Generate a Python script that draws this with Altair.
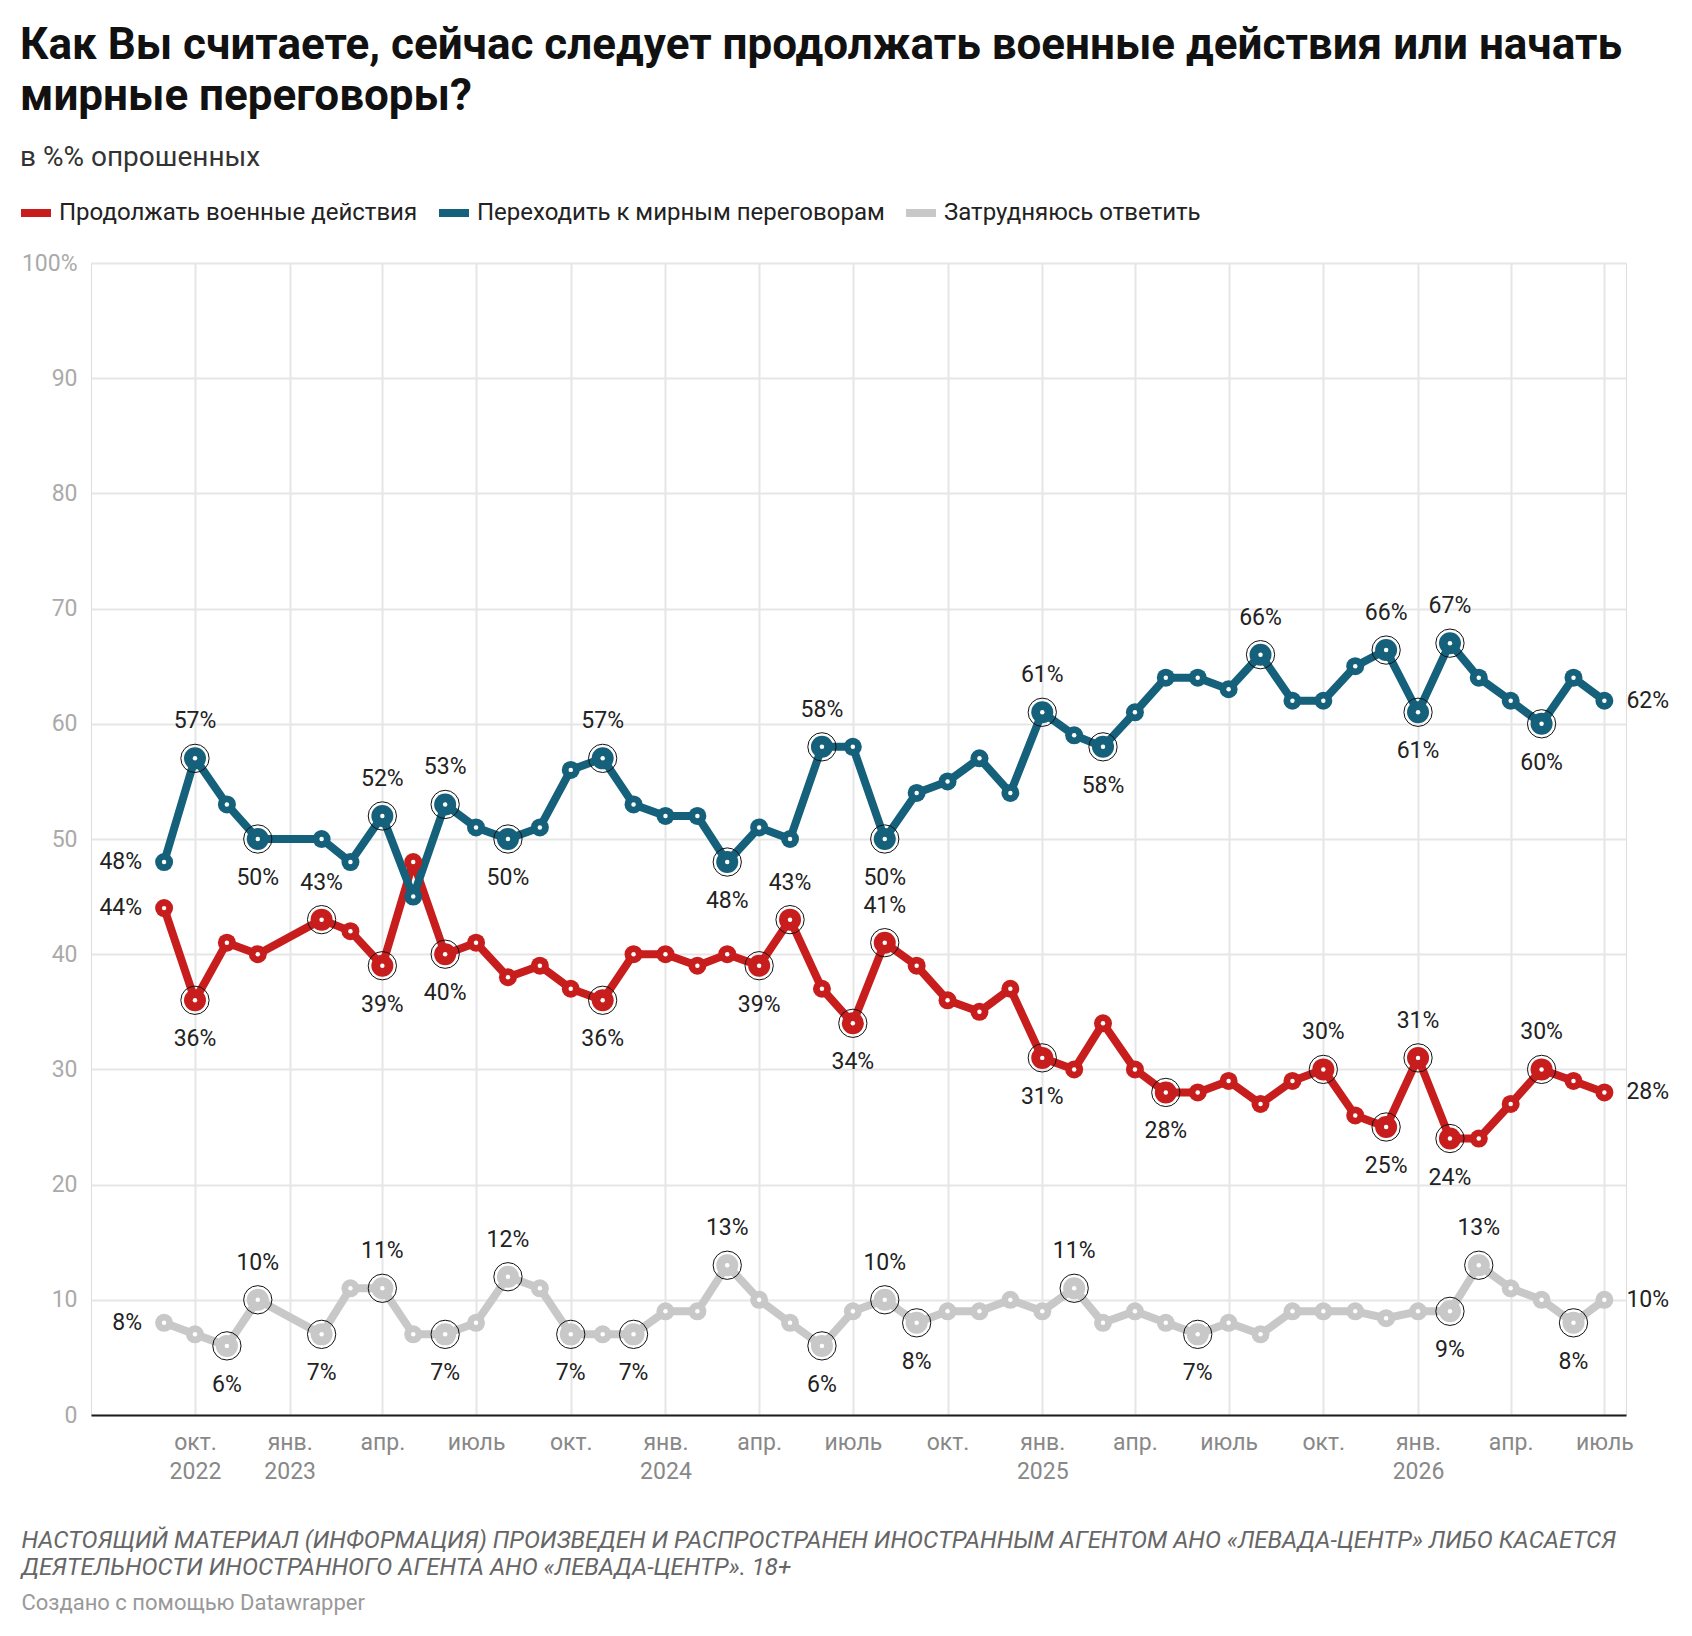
import json
import altair as alt
import pandas as pd

# ---------------- data ----------------
months = [
    "2022-09", "2022-10", "2022-11", "2022-12",
    "2023-02", "2023-03", "2023-04", "2023-05", "2023-06", "2023-07",
    "2023-08", "2023-09", "2023-10", "2023-11", "2023-12",
    "2024-01", "2024-02", "2024-03", "2024-04", "2024-05", "2024-06",
    "2024-07", "2024-08", "2024-09", "2024-10", "2024-11", "2024-12",
    "2025-01", "2025-02", "2025-03", "2025-04", "2025-05", "2025-06",
    "2025-07", "2025-08", "2025-09", "2025-10", "2025-11", "2025-12",
    "2026-01", "2026-02", "2026-03", "2026-04", "2026-05", "2026-06",
    "2026-07",
]

negotiate = [48, 57, 53, 50,
             50, 48, 52, 45, 53, 51, 50, 51, 56, 57, 53,
             52, 52, 48, 51, 50, 58, 58, 50, 54, 55, 57, 54,
             61, 59, 58, 61, 64, 64, 63, 66, 62, 62, 65, 66.4,
             61, 67, 64, 62, 60, 64, 62]

continue_war = [44, 36, 41, 40,
                43, 42, 39, 48, 40, 41, 38, 39, 37, 36, 40,
                40, 39, 40, 39, 43, 37, 34, 41, 39, 36, 35, 37,
                31, 30, 34, 30, 28, 28, 29, 27, 29, 30, 26, 25,
                31, 24, 24, 27, 30, 29, 28]

hard_to_say = [8, 7, 6, 10,
               7, 11, 11, 7, 7, 8, 12, 11, 7, 7, 7,
               9, 9, 13, 10, 8, 6, 9, 10, 8, 9, 9, 10,
               9, 11, 8, 9, 8, 7, 8, 7, 9, 9, 9, 8.4,
               9, 9, 13, 11, 10, 8, 10]

# where each value label sits (only labelled points are listed)
negotiate_labels = {
    "2022-09": "left", "2022-10": "above", "2022-12": "below", "2023-04": "above",
    "2023-06": "above", "2023-08": "below", "2023-11": "above", "2024-03": "below",
    "2024-06": "above", "2024-08": "below", "2025-01": "above", "2025-03": "below",
    "2025-08": "above", "2025-12": "above", "2026-01": "below", "2026-02": "above",
    "2026-05": "below", "2026-07": "right",
}
continue_labels = {
    "2022-09": "left", "2022-10": "below", "2023-02": "above", "2023-04": "below",
    "2023-06": "below", "2023-11": "below", "2024-04": "below", "2024-05": "above",
    "2024-07": "below", "2024-08": "above", "2025-01": "below", "2025-05": "below",
    "2025-10": "above", "2025-12": "below", "2026-01": "above", "2026-02": "below",
    "2026-05": "above", "2026-07": "right",
}
hard_labels = {
    "2022-09": "left", "2022-11": "below", "2022-12": "above", "2023-02": "below",
    "2023-04": "above", "2023-06": "below", "2023-08": "above", "2023-10": "below",
    "2023-12": "below", "2024-03": "above", "2024-06": "below", "2024-08": "above",
    "2024-09": "below", "2025-02": "above", "2025-06": "below", "2026-02": "below",
    "2026-03": "above", "2026-06": "below", "2026-07": "right",
}

series_names = ["Продолжать военные действия",
                "Переходить к мирным переговорам",
                "Затрудняюсь ответить"]
series_colors = ["#c71e1d", "#15607a", "#c8c8c8"]

tick_dates = ["2022-10-01", "2023-01-01", "2023-04-01", "2023-07-01", "2023-10-01",
              "2024-01-01", "2024-04-01", "2024-07-01", "2024-10-01",
              "2025-01-01", "2025-04-01", "2025-07-01", "2025-10-01",
              "2026-01-01", "2026-04-01", "2026-07-01"]
tick_labels = [["окт.", "2022"], ["янв.", "2023"], ["апр."], ["июль"], ["окт."],
               ["янв.", "2024"], ["апр."], ["июль"], ["окт."],
               ["янв.", "2025"], ["апр."], ["июль"], ["окт."],
               ["янв.", "2026"], ["апр."], ["июль"]]
x_domain = ["2022-06-22", "2026-07-22"]

y_ticks = [0, 10, 20, 30, 40, 50, 60, 70, 80, 90, 100]

title_lines = ["Как Вы считаете, сейчас следует продолжать военные действия или начать",
               "мирные переговоры?"]
subtitle_text = "в %% опрошенных"
footer_lines = ["НАСТОЯЩИЙ МАТЕРИАЛ (ИНФОРМАЦИЯ) ПРОИЗВЕДЕН И РАСПРОСТРАНЕН ИНОСТРАННЫМ АГЕНТОМ АНО «ЛЕВАДА-ЦЕНТР» ЛИБО КАСАЕТСЯ",
                "ДЕЯТЕЛЬНОСТИ ИНОСТРАННОГО АГЕНТА АНО «ЛЕВАДА-ЦЕНТР». 18+"]
credit_text = "Создано с помощью Datawrapper"

# ---------------- table ----------------
rows = []
for name, values, labels in [(series_names[0], continue_war, continue_labels),
                             (series_names[1], negotiate, negotiate_labels),
                             (series_names[2], hard_to_say, hard_labels)]:
    for m, v in zip(months, values):
        pos = labels.get(m, "none")
        rows.append({
            "date": m + "-01",
            "series": name,
            "value": v,
            "pos": pos,
            "hl": pos in ("above", "below"),
        })
df = pd.DataFrame(rows)


def ms(d):
    return int(pd.Timestamp(d, tz="UTC").value // 10**6)


label_expr = json.dumps(tick_labels, ensure_ascii=False) + \
    "[round(datum.index * %d)]" % (len(tick_labels) - 1)

FONT = "Roboto"

x_enc = alt.X(
    "date:T",
    scale=alt.Scale(type="utc", domain=[ms(d) for d in x_domain]),
    axis=alt.Axis(
        values=[ms(d) for d in tick_dates],
        labelExpr=label_expr,
        title=None,
        grid=True, gridColor="#e6e6e6", gridWidth=2,
        ticks=False,
        domain=True, domainColor="#1d1d1d", domainWidth=2,
        labelColor="#888888", labelFontSize=23, labelFont=FONT,
        labelPadding=16, labelLineHeight=29, labelAlign="center",
        labelFlush=False, labelOverlap=False,
    ),
)
y_enc = alt.Y(
    "value:Q",
    scale=alt.Scale(domain=[0, 100], nice=False, zero=True),
    axis=alt.Axis(
        values=y_ticks,
        labelExpr="datum.value == 100 ? '100%' : datum.label",
        title=None,
        grid=True, gridColor="#e6e6e6", gridWidth=2,
        ticks=False, domain=False,
        labelColor="#aaaaaa", labelFontSize=23, labelFont=FONT,
        labelPadding=14, labelBaseline="middle",
    ),
)

color_scale = alt.Scale(domain=series_names, range=series_colors)

legend = alt.Legend(
    orient="none", legendX=-74, legendY=-69, direction="horizontal", title=None,
    symbolType="stroke", symbolSize=900, symbolStrokeWidth=8,
    labelFontSize=24, labelFont=FONT, labelColor="#222222", labelLimit=0,
    columnPadding=5, labelOffset=4,
)

base = alt.Chart(df).transform_calculate(
    label="format(datum.value, '.0f') + '%'"
)

lines = base.mark_line(strokeWidth=8, strokeJoin="round", strokeCap="round").encode(
    x=x_enc, y=y_enc,
    color=alt.Color("series:N", scale=color_scale, sort=series_names, legend=legend),
)

dots = base.mark_circle(opacity=1).encode(
    x="date:T", y="value:Q",
    color=alt.Color("series:N", scale=color_scale, sort=series_names, legend=None),
    size=alt.condition("datum.hl", alt.value(484), alt.value(324)),
)

centers = base.mark_circle(opacity=1, color="white", size=20).encode(
    x="date:T", y="value:Q",
)

rings = base.transform_filter("datum.hl").mark_point(
    shape="circle", filled=False, color="#111111", strokeWidth=1, size=800, opacity=1
).encode(x="date:T", y="value:Q")


def text_layer(pos, **kw):
    return base.transform_filter(alt.datum.pos == pos).mark_text(
        font=FONT, fontSize=23, color="#222222", **kw
    ).encode(x="date:T", y="value:Q", text="label:N")


labels_above = text_layer("above", dy=-37, baseline="middle", align="center")
labels_below = text_layer("below", dy=39, baseline="middle", align="center")
labels_left = text_layer("left", dx=-22, baseline="middle", align="right")
labels_right = text_layer("right", dx=22, baseline="middle", align="left")

plot = alt.layer(
    lines, dots, centers, rings,
    labels_above, labels_below, labels_left, labels_right,
).properties(
    width=1535, height=1152,
    title=alt.TitleParams(
        text=footer_lines, subtitle=credit_text,
        orient="bottom", anchor="start", frame="bounds",
        font=FONT, fontSize=24, fontStyle="italic", fontWeight="normal",
        color="#666666", lineHeight=27, offset=46,
        subtitleFont=FONT, subtitleFontSize=22, subtitleColor="#999999",
        subtitlePadding=13,
    ),
)

chart = alt.vconcat(plot).properties(
    title=alt.TitleParams(
        text=title_lines, subtitle=subtitle_text,
        anchor="start", frame="bounds", dx=3,
        font=FONT, fontSize=44, fontWeight="bold", color="#111111", lineHeight=51,
        subtitleFont=FONT, subtitleFontSize=28, subtitleColor="#333333",
        subtitlePadding=25, offset=22,
    ),
    padding={"left": 9, "top": 16, "right": 10, "bottom": 20},
).configure_view(stroke=None).configure(font=FONT)

chart.save("out.html", embed_options={"renderer": "svg", "actions": False})
